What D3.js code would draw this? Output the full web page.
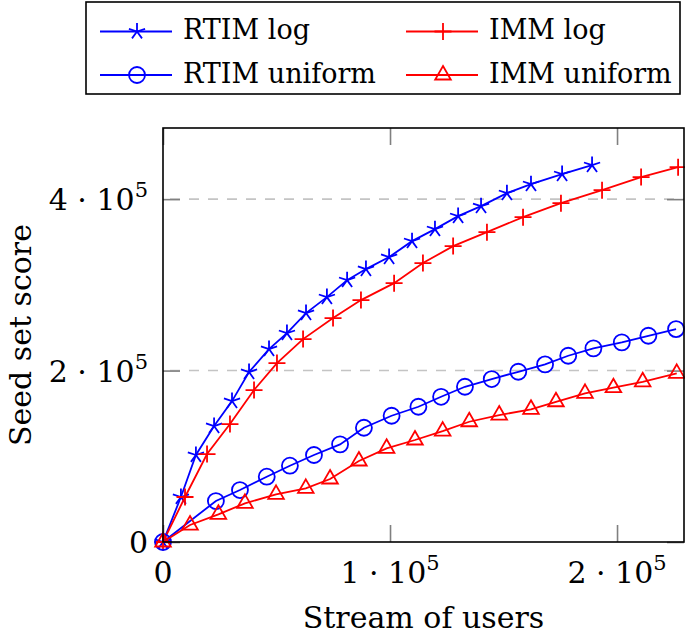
<!DOCTYPE html>
<html>
<head>
<meta charset="utf-8">
<script src="https://cdn.jsdelivr.net/npm/d3@7"></script>
<style>
  body { margin: 0; background: #fff; }
</style>
</head>
<body>
<div id="viz-container"></div>
<script>
var margin = {top: 128, right: 1, bottom: 97, left: 163},
    width = 685 - margin.left - margin.right,
    height = 639 - margin.top - margin.bottom;

var fontFamily = "DejaVu Serif";

// series (stream size, seed set score)
var rtimLogX = [0, 7900, 14500, 22500, 30400, 37900, 46700, 54600, 63000, 72200, 81100,
                89400, 99600, 109700, 119800, 130000, 140100, 151500, 162100, 175800, 189000];
var rtimLogY = [0, 52500, 101500, 135300, 164400, 198300, 225100, 243700, 267100, 285700, 305500,
                318400, 332400, 351000, 365000, 380200, 391800, 407000, 417500, 429200, 439700];

var immLogX = [0, 9700, 19400, 29500, 40100, 50200, 61700, 74900, 87200, 101800, 114500,
               127800, 142700, 158600, 175300, 193400, 210600, 226900];
var immLogY = [0, 52500, 102600, 137600, 177300, 208700, 236700, 261200, 282200, 302000, 325400,
               345200, 361500, 379000, 395300, 410500, 425700, 437300];

var rtimUniX = [0, 23300, 33900, 45700, 55900, 66500, 78000, 88500, 100700, 112500, 122500,
                133000, 144800, 156500, 168300, 178500, 189600, 202100, 213800, 226000];
var rtimUniY = [0, 47800, 60600, 76200, 89000, 101500, 113900, 133300, 147300, 157800, 169400,
                181100, 190100, 198600, 207200, 217300, 225900, 232900, 240600, 248400];

var immUniX = [0, 11900, 24400, 36100, 49800, 62900, 73600, 86300, 98500, 111000, 123200,
               134900, 148100, 162100, 173100, 185900, 198400, 211300, 226300];
var immUniY = [0, 19800, 32300, 45100, 55600, 62600, 73500, 94500, 109300, 119000, 129400,
               140300, 148100, 154800, 163600, 173400, 180000, 186900, 196700];

var seriesNames = ["RTIM log", "IMM log", "RTIM uniform", "IMM uniform"];
var xTicks = [0, 100000, 200000];
var yTicks = [0, 200000, 400000];
var xLabel = "Stream of users";
var yLabel = "Seed set score";

var series = [
    {name: seriesNames[0], xs: rtimLogX, ys: rtimLogY, color: "#0000ff", mark: "star"},
    {name: seriesNames[1], xs: immLogX, ys: immLogY, color: "#ff0000", mark: "plus"},
    {name: seriesNames[2], xs: rtimUniX, ys: rtimUniY, color: "#0000ff", mark: "circle"},
    {name: seriesNames[3], xs: immUniX, ys: immUniY, color: "#ff0000", mark: "triangle"}
];

var xScale = d3.scaleLinear().domain([0, 229500]).range([0, width]);
var yScale = d3.scaleLinear().domain([0, 483000]).range([height, 0]);

// pgfplots style marks
var markPath = function(type) {
    var p = d3.path();
    if (type === "star") {
        var r = 8.5;
        for (var i = 0; i < 5; i++) {
            var a = (90 + i * 72) * Math.PI / 180;
            p.moveTo(0, 0);
            p.lineTo(r * Math.cos(a), -r * Math.sin(a));
        }
    } else if (type === "plus") {
        var r = 8.5;
        p.moveTo(-r, 0); p.lineTo(r, 0);
        p.moveTo(0, -r); p.lineTo(0, r);
    } else if (type === "circle") {
        p.arc(0, 0, 8, 0, 2 * Math.PI);
        p.closePath();
    } else if (type === "triangle") {
        var r = 9;
        p.moveTo(0, -r);
        p.lineTo(r * Math.cos(Math.PI / 6), r / 2);
        p.lineTo(-r * Math.cos(Math.PI / 6), r / 2);
        p.closePath();
    }
    return p.toString();
}

var svg = d3.select("#viz-container")
  .append("svg")
    .attr("width", 685)
    .attr("height", 639)
    .attr("font-family", fontFamily);

var g = svg.append("g")
    .attr("transform", "translate(" + margin.left + "," + margin.top + ")");

// grid lines
g.selectAll(".grid")
    .data(yTicks.filter(function(d){ return d > 0; }))
    .enter().append("line")
    .attr("class", "grid")
    .attr("x1", 0)
    .attr("x2", width)
    .attr("y1", function(d){ return yScale(d); })
    .attr("y2", function(d){ return yScale(d); })
    .style("stroke", "#c4c4c4")
    .style("stroke-width", 1.6)
    .style("stroke-dasharray", "10,9")
    .style("stroke-dashoffset", 12);

// ticks on all four sides, pointing inwards
var tickStyle = function(sel) {
    sel.select(".domain").remove();
    sel.selectAll(".tick line").style("stroke", "#808080").style("stroke-width", 1.6);
    sel.selectAll(".tick text").remove();
}
g.append("g").attr("transform", "translate(0," + height + ")")
    .call(d3.axisBottom(xScale).tickValues(xTicks).tickSize(-17)).call(tickStyle);
g.append("g")
    .call(d3.axisTop(xScale).tickValues(xTicks).tickSize(-17)).call(tickStyle);
g.append("g")
    .call(d3.axisLeft(yScale).tickValues(yTicks).tickSize(-17)).call(tickStyle);
g.append("g").attr("transform", "translate(" + width + ",0)")
    .call(d3.axisRight(yScale).tickValues(yTicks).tickSize(-17)).call(tickStyle);

// scientific tick labels: m · 10^e
var sciText = function(sel, v) {
    if (v === 0) { sel.text("0"); return; }
    var e = Math.floor(Math.log10(v));
    var m = Math.round(v / Math.pow(10, e));
    sel.append("tspan").text(m + " \u00b7 10");
    sel.append("tspan").attr("dy", -13).style("font-size", "21px").text(e);
}

g.selectAll(".xlabel")
    .data(xTicks)
    .enter().append("text")
    .attr("class", "xlabel")
    .attr("x", function(d){ return xScale(d); })
    .attr("y", height + 41)
    .attr("text-anchor", "middle")
    .style("font-size", "30px")
    .each(function(d){ sciText(d3.select(this), d); });

g.selectAll(".ylabel")
    .data(yTicks)
    .enter().append("text")
    .attr("class", "ylabel")
    .attr("x", -15)
    .attr("y", function(d){ return yScale(d) + 11; })
    .attr("text-anchor", "end")
    .style("font-size", "30px")
    .each(function(d){ sciText(d3.select(this), d); });

// axis titles
svg.append("text")
    .attr("x", margin.left + width / 2)
    .attr("y", 628)
    .attr("text-anchor", "middle")
    .style("font-size", "30px")
    .text(xLabel);
svg.append("text")
    .attr("transform", "rotate(-90)")
    .attr("x", -(margin.top + height / 2))
    .attr("y", 31)
    .attr("text-anchor", "middle")
    .style("font-size", "30px")
    .text(yLabel);

// series
var line = d3.line()
    .x(function(d){ return xScale(d[0]); })
    .y(function(d){ return yScale(d[1]); });

series.forEach(function(s) {
    var pts = s.xs.map(function(x, i){ return [x, s.ys[i]]; });
    g.append("path")
        .datum(pts)
        .attr("d", line)
        .style("fill", "none")
        .style("stroke", s.color)
        .style("stroke-width", 1.8);
    g.selectAll(".mark-" + s.mark)
        .data(pts)
        .enter().append("path")
        .attr("class", "mark-" + s.mark)
        .attr("transform", function(d){ return "translate(" + xScale(d[0]) + "," + yScale(d[1]) + ")"; })
        .attr("d", markPath(s.mark))
        .style("fill", "none")
        .style("stroke", s.color)
        .style("stroke-width", 1.8);
});

// frame
g.append("rect")
    .attr("width", width)
    .attr("height", height)
    .style("fill", "none")
    .style("stroke", "#000")
    .style("stroke-width", 1.6);

// legend, two columns
var legend = svg.append("g");
legend.append("rect")
    .attr("x", 86).attr("y", 2)
    .attr("width", 594).attr("height", 92)
    .style("fill", "#fff")
    .style("stroke", "#000")
    .style("stroke-width", 1.6);

var legendCol = [100, 406];
var legendRow = [31.5, 75];
series.forEach(function(s, i) {
    var lx = legendCol[i % 2], ly = legendRow[Math.floor(i / 2)];
    legend.append("line")
        .attr("x1", lx).attr("x2", lx + 72)
        .attr("y1", ly).attr("y2", ly)
        .style("stroke", s.color)
        .style("stroke-width", 1.8);
    legend.append("path")
        .attr("transform", "translate(" + (lx + 37) + "," + ly + ")")
        .attr("d", markPath(s.mark))
        .style("fill", "none")
        .style("stroke", s.color)
        .style("stroke-width", 1.8);
    legend.append("text")
        .attr("x", lx + 83)
        .attr("y", ly + 7.5)
        .style("font-size", "27px")
        .text(s.name);
});
</script>
</body>
</html>
